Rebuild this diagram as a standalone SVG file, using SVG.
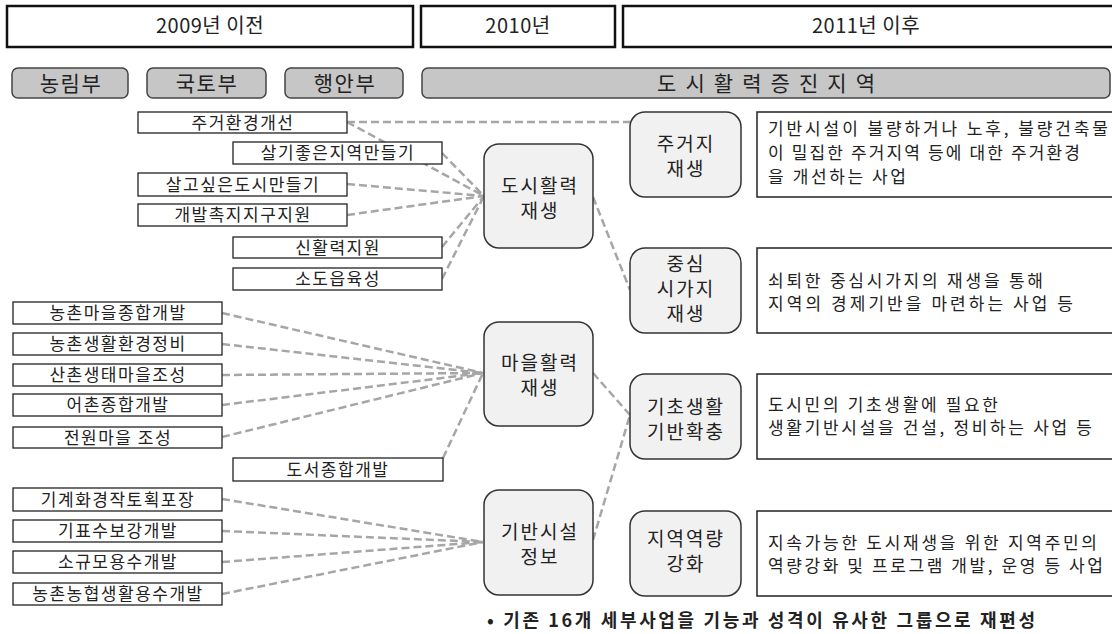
<svg xmlns="http://www.w3.org/2000/svg" width="1112" height="634" viewBox="0 0 1112 634">
<style>
text{font-family:"Noto Sans CJK KR","Noto Sans",sans-serif;fill:#222;}
.hdr{fill:#fff;stroke:#111;stroke-width:2.5;}
.hdrt{font-size:20px;text-anchor:middle;letter-spacing:0.5px;}
.pill{fill:#c6c6c6;stroke:#444;stroke-width:1.5;}
.pillt{font-size:21px;text-anchor:middle;letter-spacing:1.5px;}
.src{fill:#fff;stroke:#222;stroke-width:1.3;}
.srct{font-size:17px;text-anchor:middle;letter-spacing:1.5px;}
.node{fill:#f1f1f1;stroke:#333;stroke-width:1.5;}
.nodet{font-size:19px;text-anchor:middle;letter-spacing:2px;}
.desc{fill:#fff;stroke:#222;stroke-width:1.5;}
.desct{font-size:17px;}
.con{fill:none;stroke:#a6a6a6;stroke-width:2.5;stroke-dasharray:8 4;}
.note{font-size:18px;font-weight:bold;}
</style>

<g id="headers">
<rect class="hdr" x="7" y="6" width="406" height="41"/>
<text class="hdrt" x="210" y="33">2009년 이전</text>
<rect class="hdr" x="421" y="6" width="194" height="41"/>
<text class="hdrt" x="518" y="33">2010년</text>
<rect class="hdr" x="623" y="6" width="495" height="41"/>
<text class="hdrt" x="866" y="33">2011년 이후</text>
</g>

<g id="ministries">
<g id="m-nongrim"><rect class="pill" x="12" y="68" width="116" height="30" rx="6"/><text class="pillt" x="71" y="91">농림부</text></g>
<g id="m-gukto"><rect class="pill" x="147" y="68" width="119" height="30" rx="6"/><text class="pillt" x="207" y="91">국토부</text></g>
<g id="m-haengan"><rect class="pill" x="285" y="68" width="118" height="30" rx="6"/><text class="pillt" x="345" y="91">행안부</text></g>
<g id="m-area"><rect class="pill" x="422" y="68" width="688" height="30" rx="6"/><text class="pillt" x="766" y="91" textLength="218" lengthAdjust="spacing" style="letter-spacing:0">도 시 활 력 증 진 지 역</text></g>
</g>

<g id="connectors">
<line class="con" x1="347" y1="122" x2="630" y2="122"/>
<line class="con" x1="347" y1="122" x2="484" y2="196"/>
<line class="con" x1="442" y1="153" x2="484" y2="196"/>
<line class="con" x1="347" y1="184" x2="484" y2="196"/>
<line class="con" x1="347" y1="215" x2="484" y2="196"/>
<line class="con" x1="442" y1="247" x2="484" y2="196"/>
<line class="con" x1="442" y1="279" x2="484" y2="196"/>
<line class="con" x1="222" y1="313" x2="483" y2="373"/>
<line class="con" x1="222" y1="344" x2="483" y2="373"/>
<line class="con" x1="222" y1="375" x2="483" y2="373"/>
<line class="con" x1="222" y1="405" x2="483" y2="373"/>
<line class="con" x1="222" y1="437" x2="483" y2="373"/>
<line class="con" x1="443" y1="458" x2="483" y2="373"/>
<line class="con" x1="222" y1="499" x2="483" y2="542"/>
<line class="con" x1="222" y1="531" x2="483" y2="542"/>
<line class="con" x1="222" y1="562" x2="483" y2="542"/>
<line class="con" x1="222" y1="594" x2="483" y2="542"/>
<line class="con" x1="593" y1="197" x2="630" y2="290"/>
<line class="con" x1="593" y1="373" x2="630" y2="415"/>
<line class="con" x1="593" y1="540" x2="630" y2="415"/>
</g>

<g id="s1"><rect class="src" x="138" y="112" width="209" height="21"/><text class="srct" x="243" y="128.5">주거환경개선</text></g>
<g id="s2"><rect class="src" x="233" y="142" width="209" height="22"/><text class="srct" x="338" y="159">살기좋은지역만들기</text></g>
<g id="s3"><rect class="src" x="138" y="173" width="209" height="23"/><text class="srct" x="243" y="190.5">살고싶은도시만들기</text></g>
<g id="s4"><rect class="src" x="138" y="204" width="209" height="22"/><text class="srct" x="243" y="221">개발촉지지구지원</text></g>
<g id="s5"><rect class="src" x="233" y="237" width="209" height="21"/><text class="srct" x="338" y="253.5">신활력지원</text></g>
<g id="s6"><rect class="src" x="233" y="268" width="209" height="22"/><text class="srct" x="338" y="285">소도읍육성</text></g>

<g id="s7"><rect class="src" x="13" y="302" width="209" height="22"/><text class="srct" x="118" y="319">농촌마을종합개발</text></g>
<g id="s8"><rect class="src" x="13" y="333" width="209" height="22"/><text class="srct" x="118" y="350">농촌생활환경정비</text></g>
<g id="s9"><rect class="src" x="13" y="364" width="209" height="22"/><text class="srct" x="118" y="381">산촌생태마을조성</text></g>
<g id="s10"><rect class="src" x="13" y="394" width="209" height="22"/><text class="srct" x="118" y="411">어촌종합개발</text></g>
<g id="s11"><rect class="src" x="13" y="427" width="209" height="21"/><text class="srct" x="118" y="443.5">전원마을 조성</text></g>
<g id="s12"><rect class="src" x="233" y="458" width="210" height="23"/><text class="srct" x="338" y="475.5">도서종합개발</text></g>

<g id="s13"><rect class="src" x="13" y="488" width="209" height="23"/><text class="srct" x="118" y="505.5">기계화경작토획포장</text></g>
<g id="s14"><rect class="src" x="13" y="520" width="209" height="22"/><text class="srct" x="118" y="537">기표수보강개발</text></g>
<g id="s15"><rect class="src" x="13" y="551" width="209" height="22"/><text class="srct" x="118" y="568">소규모용수개발</text></g>
<g id="s16"><rect class="src" x="13" y="583" width="209" height="22"/><text class="srct" x="118" y="600">농촌농협생활용수개발</text></g>

<g id="n-city"><rect class="node" x="484" y="144" width="109" height="104" rx="15"/><text class="nodet" x="540" y="193">도시활력</text><text class="nodet" x="540" y="218">재생</text></g>
<g id="n-village"><rect class="node" x="484" y="322" width="109" height="104" rx="15"/><text class="nodet" x="540" y="370">마을활력</text><text class="nodet" x="540" y="395">재생</text></g>
<g id="n-infra"><rect class="node" x="484" y="490" width="109" height="105" rx="15"/><text class="nodet" x="540" y="539">기반시설</text><text class="nodet" x="540" y="564">정보</text></g>

<g id="n-res"><rect class="node" x="630" y="112" width="111" height="85" rx="15"/><text class="nodet" x="686" y="151">주거지</text><text class="nodet" x="686" y="176">재생</text></g>
<g id="n-center"><rect class="node" x="630" y="248" width="111" height="85" rx="15"/><text class="nodet" x="686" y="271">중심</text><text class="nodet" x="686" y="296">시가지</text><text class="nodet" x="686" y="321">재생</text></g>
<g id="n-basic"><rect class="node" x="630" y="374" width="111" height="85" rx="15"/><text class="nodet" x="686" y="414">기초생활</text><text class="nodet" x="686" y="439">기반확충</text></g>
<g id="n-cap"><rect class="node" x="630" y="511" width="111" height="85" rx="15"/><text class="nodet" x="686" y="546">지역역량</text><text class="nodet" x="686" y="571">강화</text></g>

<g id="d1"><rect class="desc" x="757" y="112" width="360" height="85"/>
<text class="desct" x="768" y="135" textLength="340" lengthAdjust="spacing">기반시설이 불량하거나  노후, 불량건축물</text>
<text class="desct" x="768" y="159" textLength="312" lengthAdjust="spacing">이 밀집한 주거지역 등에 대한 주거환경</text>
<text class="desct" x="768" y="183" textLength="138" lengthAdjust="spacing">을 개선하는 사업</text></g>
<g id="d2"><rect class="desc" x="757" y="248" width="360" height="85"/>
<text class="desct" x="768" y="287" textLength="275" lengthAdjust="spacing">쇠퇴한 중심시가지의 재생을 통해</text>
<text class="desct" x="768" y="310" textLength="305" lengthAdjust="spacing">지역의 경제기반을 마련하는 사업 등</text></g>
<g id="d3"><rect class="desc" x="757" y="374" width="360" height="85"/>
<text class="desct" x="768" y="411" textLength="230" lengthAdjust="spacing">도시민의 기초생활에  필요한</text>
<text class="desct" x="768" y="434" textLength="324" lengthAdjust="spacing">생활기반시설을 건설, 정비하는 사업 등</text></g>
<g id="d4"><rect class="desc" x="757" y="511" width="360" height="85"/>
<text class="desct" x="768" y="549" textLength="329" lengthAdjust="spacing">지속가능한 도시재생을  위한 지역주민의</text>
<text class="desct" x="768" y="572" textLength="335" lengthAdjust="spacing">역량강화 및 프로그램 개발, 운영 등 사업</text></g>

<text class="note" x="487" y="627" textLength="548" lengthAdjust="spacing">• 기존 16개 세부사업을 기능과 성격이 유사한 그룹으로 재편성</text>
</svg>
